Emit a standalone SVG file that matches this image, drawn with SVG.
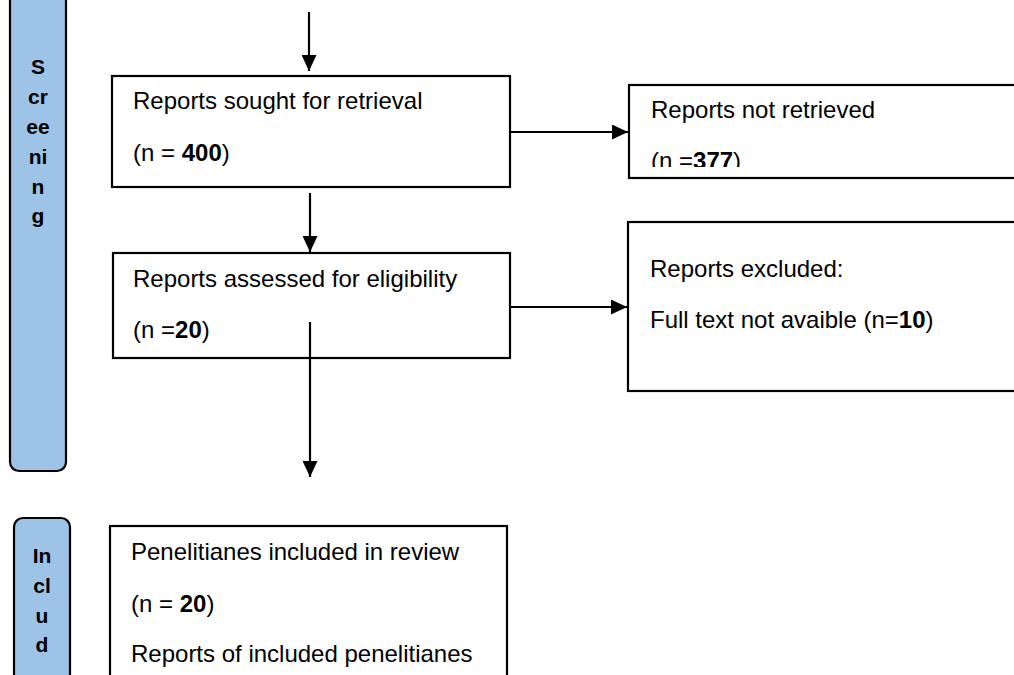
<svg xmlns="http://www.w3.org/2000/svg" width="1014" height="675" viewBox="0 0 1014 675">
<style>
.box{fill:#fff;stroke:#000;stroke-width:2.2}
.side{fill:#9dc3e6;stroke:#000;stroke-width:2.2}
.t{font-family:"Liberation Sans",Arial,sans-serif;font-size:24px;fill:#000}
.s{font-family:"Liberation Sans",Arial,sans-serif;font-size:21px;font-weight:bold;fill:#000;text-anchor:middle}
.b{font-weight:bold}
.c{stroke:#000;stroke-width:2.2;fill:none}
</style>
<defs>
<marker id="ah" markerWidth="16" markerHeight="15" refX="16" refY="7.5" orient="auto" markerUnits="userSpaceOnUse">
<path d="M0,0 L16,7.5 L0,15 Z" fill="#000"/>
</marker>
<clipPath id="clipR1"><rect x="629" y="85" width="400" height="82"/></clipPath>
</defs>
<rect width="1014" height="675" fill="#fff"/>

<g id="screening">
<rect class="side" x="10" y="-20" width="56" height="491" rx="9"/>
<text class="s"><tspan x="38" y="74">S</tspan><tspan x="38" y="104">cr</tspan><tspan x="38" y="134">ee</tspan><tspan x="38" y="164">ni</tspan><tspan x="38" y="194">n</tspan><tspan x="38" y="223">g</tspan></text>
</g>

<g id="included">
<rect class="side" x="14" y="518" width="56" height="200" rx="9"/>
<text class="s"><tspan x="42" y="563">In</tspan><tspan x="42" y="593">cl</tspan><tspan x="42" y="623">u</tspan><tspan x="42" y="652">d</tspan></text>
</g>

<g id="sought">
<rect class="box" x="112" y="76" width="398" height="111"/>
<text class="t" x="133" y="109">Reports sought for retrieval</text>
<text class="t" x="133" y="161">(n = <tspan class="b">400</tspan>)</text>
</g>

<g id="notretrieved">
<rect class="box" x="629" y="85" width="400" height="93"/>
<g clip-path="url(#clipR1)">
<text class="t" x="651" y="118">Reports not retrieved</text>
<text class="t" x="651" y="169">(n =<tspan class="b">377</tspan>)</text>
</g>
</g>

<g id="assessed">
<rect class="box" x="113" y="253" width="397" height="105"/>
<text class="t" x="133" y="287">Reports assessed for eligibility</text>
<text class="t" x="133" y="338">(n =<tspan class="b">20</tspan>)</text>
</g>

<g id="excluded">
<rect class="box" x="628" y="222" width="400" height="169"/>
<text class="t" x="650" y="277">Reports excluded:</text>
<text class="t" x="650" y="328">Full text not avaible (n=<tspan class="b">10</tspan>)</text>
</g>

<g id="includedreview">
<rect class="box" x="110" y="526" width="397" height="170"/>
<text class="t" x="131" y="560">Penelitianes included in review</text>
<text class="t" x="131" y="612">(n = <tspan class="b">20</tspan>)</text>
<text class="t" x="131" y="662">Reports of included penelitianes</text>
</g>

<g id="connectors">
<line class="c" x1="309" y1="12" x2="309" y2="71" marker-end="url(#ah)"/>
<line class="c" x1="310" y1="193" x2="310" y2="252" marker-end="url(#ah)"/>
<line class="c" x1="310" y1="322" x2="310" y2="477" marker-end="url(#ah)"/>
<line class="c" x1="510" y1="132" x2="628" y2="132" marker-end="url(#ah)"/>
<line class="c" x1="510" y1="307" x2="627" y2="307" marker-end="url(#ah)"/>
</g>
</svg>
